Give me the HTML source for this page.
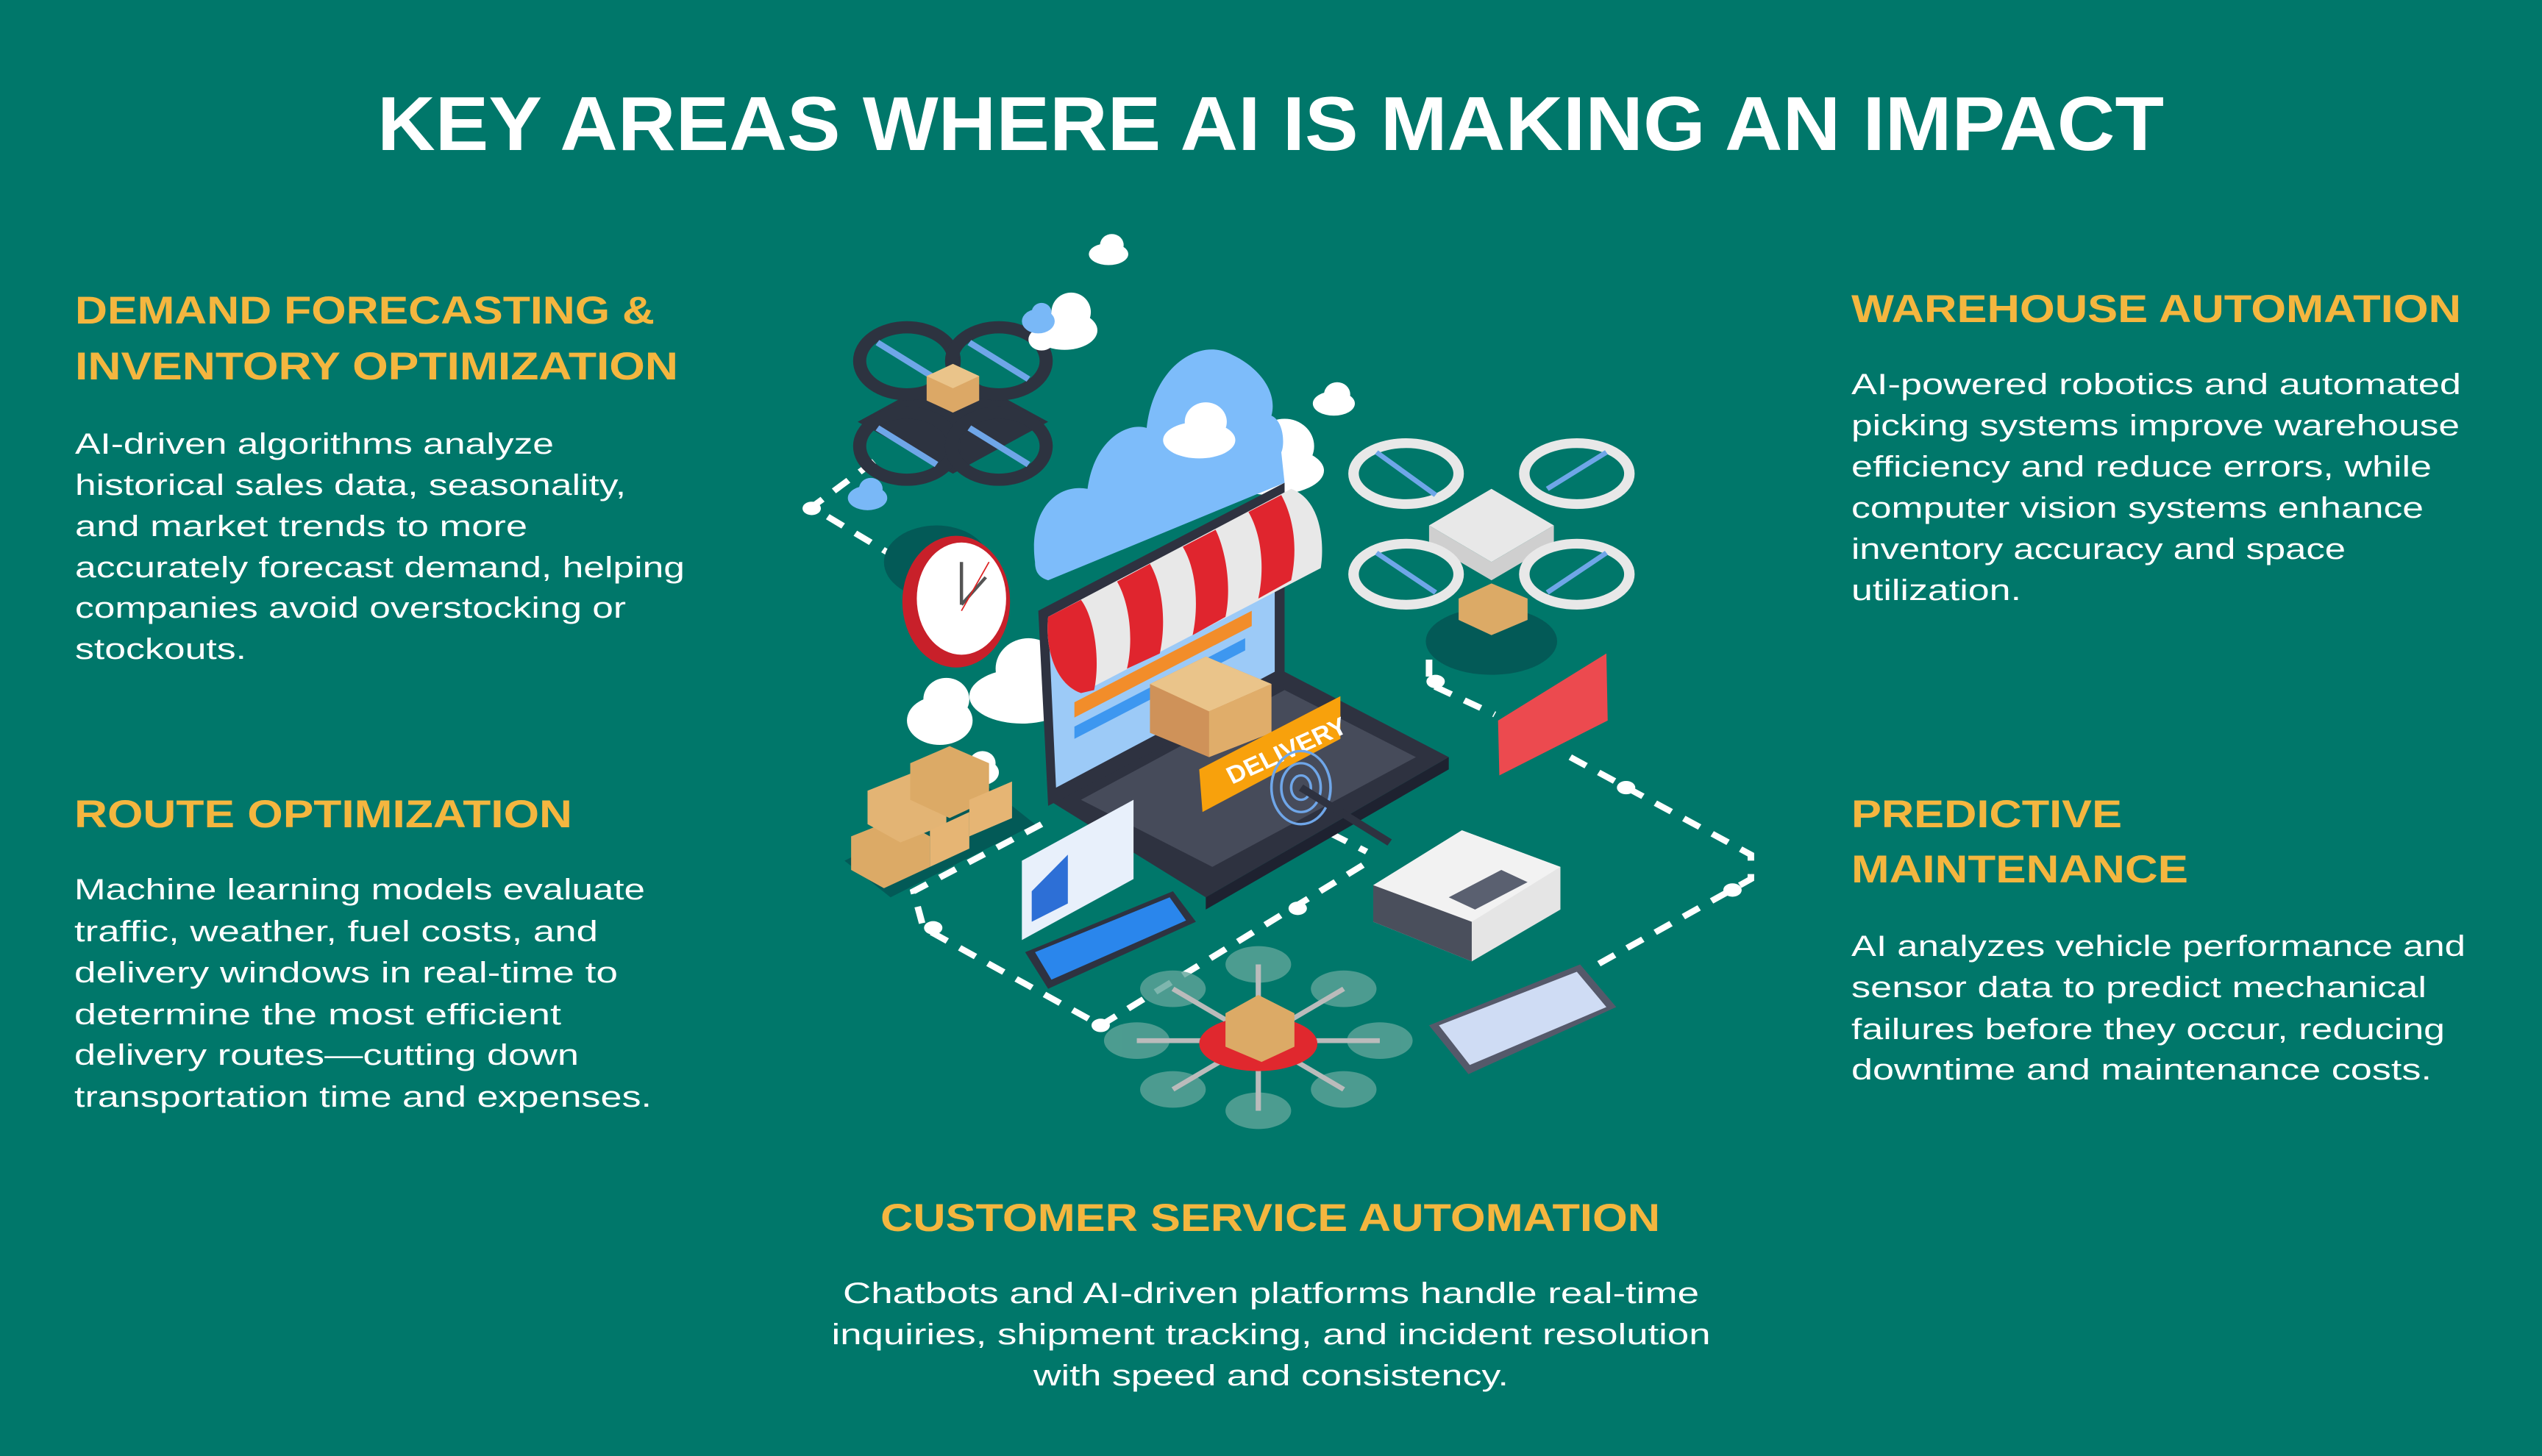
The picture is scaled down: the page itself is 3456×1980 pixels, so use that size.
<!DOCTYPE html>
<html><head><meta charset="utf-8"><style>
html,body{margin:0;padding:0;background:#00776a;}
svg{display:block}
text{font-family:"Liberation Sans",sans-serif;}
.t{fill:#fff;font-weight:bold;font-size:104px}
.h{fill:#f4b63f;font-weight:bold;font-size:53px}
.b{fill:#fff;font-size:40px}
</style></head><body>
<svg width="3456" height="1980" viewBox="0 0 3456 1980" xmlns="http://www.w3.org/2000/svg">
<rect width="3456" height="1980" fill="#00776a"/>
<text class="t" x="513" y="204" textLength="2429" lengthAdjust="spacingAndGlyphs">KEY AREAS WHERE AI IS MAKING AN IMPACT</text>

<text class="h" x="102" y="440" textLength="788" lengthAdjust="spacingAndGlyphs">DEMAND FORECASTING &amp;</text>
<text class="h" x="102" y="516" textLength="820" lengthAdjust="spacingAndGlyphs">INVENTORY OPTIMIZATION</text>
<text class="b" x="102" y="617" textLength="651" lengthAdjust="spacingAndGlyphs">AI-driven algorithms analyze</text>
<text class="b" x="102" y="673" textLength="749" lengthAdjust="spacingAndGlyphs">historical sales data, seasonality,</text>
<text class="b" x="102" y="729" textLength="615" lengthAdjust="spacingAndGlyphs">and market trends to more</text>
<text class="b" x="102" y="785" textLength="829" lengthAdjust="spacingAndGlyphs">accurately forecast demand, helping</text>
<text class="b" x="102" y="840" textLength="749" lengthAdjust="spacingAndGlyphs">companies avoid overstocking or</text>
<text class="b" x="102" y="896" textLength="233" lengthAdjust="spacingAndGlyphs">stockouts.</text>

<text class="h" x="101" y="1125" textLength="677" lengthAdjust="spacingAndGlyphs">ROUTE OPTIMIZATION</text>
<text class="b" x="101" y="1223" textLength="776" lengthAdjust="spacingAndGlyphs">Machine learning models evaluate</text>
<text class="b" x="101" y="1280" textLength="712" lengthAdjust="spacingAndGlyphs">traffic, weather, fuel costs, and</text>
<text class="b" x="101" y="1336" textLength="739" lengthAdjust="spacingAndGlyphs">delivery windows in real-time to</text>
<text class="b" x="101" y="1393" textLength="662" lengthAdjust="spacingAndGlyphs">determine the most efficient</text>
<text class="b" x="101" y="1448" textLength="686" lengthAdjust="spacingAndGlyphs">delivery routes—cutting down</text>
<text class="b" x="101" y="1505" textLength="785" lengthAdjust="spacingAndGlyphs">transportation time and expenses.</text>

<text class="h" x="2517" y="438" textLength="829" lengthAdjust="spacingAndGlyphs">WAREHOUSE AUTOMATION</text>
<text class="b" x="2517" y="536" textLength="829" lengthAdjust="spacingAndGlyphs">AI-powered robotics and automated</text>
<text class="b" x="2517" y="592" textLength="827" lengthAdjust="spacingAndGlyphs">picking systems improve warehouse</text>
<text class="b" x="2517" y="648" textLength="789" lengthAdjust="spacingAndGlyphs">efficiency and reduce errors, while</text>
<text class="b" x="2517" y="704" textLength="778" lengthAdjust="spacingAndGlyphs">computer vision systems enhance</text>
<text class="b" x="2517" y="760" textLength="672" lengthAdjust="spacingAndGlyphs">inventory accuracy and space</text>
<text class="b" x="2517" y="816" textLength="231" lengthAdjust="spacingAndGlyphs">utilization.</text>

<text class="h" x="2517" y="1125" textLength="368" lengthAdjust="spacingAndGlyphs">PREDICTIVE</text>
<text class="h" x="2517" y="1200" textLength="458" lengthAdjust="spacingAndGlyphs">MAINTENANCE</text>
<text class="b" x="2517" y="1300" textLength="835" lengthAdjust="spacingAndGlyphs">AI analyzes vehicle performance and</text>
<text class="b" x="2517" y="1356" textLength="782" lengthAdjust="spacingAndGlyphs">sensor data to predict mechanical</text>
<text class="b" x="2517" y="1413" textLength="807" lengthAdjust="spacingAndGlyphs">failures before they occur, reducing</text>
<text class="b" x="2517" y="1468" textLength="789" lengthAdjust="spacingAndGlyphs">downtime and maintenance costs.</text>

<text class="h" x="1197" y="1674" textLength="1060" lengthAdjust="spacingAndGlyphs">CUSTOMER SERVICE AUTOMATION</text>
<text class="b" x="1728" y="1772" text-anchor="middle" textLength="1164" lengthAdjust="spacingAndGlyphs">Chatbots and AI-driven platforms handle real-time</text>
<text class="b" x="1728" y="1828" text-anchor="middle" textLength="1195" lengthAdjust="spacingAndGlyphs">inquiries, shipment tracking, and incident resolution</text>
<text class="b" x="1728" y="1884" text-anchor="middle" textLength="646" lengthAdjust="spacingAndGlyphs">with speed and consistency.</text>

<g transform="translate(1050,300) scale(0.8929,0.8291)">
 <!-- dashed paths -->
 <g fill="none" stroke="#fff" stroke-width="10" stroke-dasharray="28 22">
  <path d="M155 395 L60 470 L200 560"/>
  <path d="M410 990 L215 1100 L230 1160 L500 1320"/>
  <path d="M500 1320 L910 1050"/>
  <path d="M1000 720 L1000 760 L1100 810"/>
  <path d="M1215 880 L1490 1040 L1490 1080 L1240 1230"/>
  <path d="M850 1005 L905 1035"/>
 </g>
 <g fill="#fff"><ellipse cx="60" cy="472" rx="14" ry="11"/><ellipse cx="245" cy="1160" rx="14" ry="11"/><ellipse cx="500" cy="1320" rx="14" ry="11"/><ellipse cx="800" cy="1128" rx="14" ry="11"/><ellipse cx="1010" cy="756" rx="14" ry="11"/><ellipse cx="1300" cy="930" rx="14" ry="11"/><ellipse cx="1462" cy="1098" rx="14" ry="11"/></g>
 <!-- shadows -->
 <g fill="#035a57"><ellipse cx="1095" cy="690" rx="100" ry="55"/><ellipse cx="250" cy="560" rx="80" ry="60"/><path d="M110 1050 L330 930 L400 990 L180 1110Z"/></g>
 <!-- dark drone -->
 <path d="M130 330 L275 245 L420 330 L275 415Z" fill="#2d3340"/>
 <g fill="none" stroke="#2d3340" stroke-width="20">
  <ellipse cx="205" cy="230" rx="72" ry="55"/><ellipse cx="345" cy="230" rx="72" ry="55"/><ellipse cx="205" cy="370" rx="72" ry="55"/><ellipse cx="345" cy="370" rx="72" ry="55"/>
 </g>
 <g stroke="#6fa6e8" stroke-width="10"><path d="M160 200 L250 260 M300 200 L390 260 M160 340 L250 400 M300 340 L390 400"/></g>
 <path d="M235 255 L275 235 L315 255 L315 295 L275 315 L235 295Z" fill="#dca866"/><path d="M235 255 L275 235 L315 255 L275 275Z" fill="#eac48a"/>
 <!-- clouds -->
 <g fill="#fff">
  <g transform="translate(445,180)"><ellipse cx="0" cy="0" rx="50" ry="32"/><ellipse cx="10" cy="-30" rx="30" ry="32"/><ellipse cx="-35" cy="15" rx="20" ry="18"/></g>
  <g transform="translate(512,55)"><ellipse cx="0" cy="0" rx="30" ry="18"/><ellipse cx="5" cy="-15" rx="18" ry="18"/></g>
  <g transform="translate(855,300)"><ellipse cx="0" cy="0" rx="32" ry="20"/><ellipse cx="5" cy="-15" rx="20" ry="20"/></g>
  <g transform="translate(760,410)"><ellipse cx="0" cy="0" rx="80" ry="40"/><ellipse cx="20" cy="-40" rx="45" ry="45"/><ellipse cx="-40" cy="0" rx="35" ry="30"/></g>
  <g transform="translate(380,780)"><ellipse cx="0" cy="0" rx="80" ry="45"/><ellipse cx="10" cy="-45" rx="50" ry="50"/><ellipse cx="60" cy="-15" rx="40" ry="35"/></g>
  <g transform="translate(255,820)"><ellipse cx="0" cy="0" rx="50" ry="40"/><ellipse cx="10" cy="-35" rx="35" ry="35"/></g>
  <g transform="translate(315,905)"><ellipse cx="0" cy="0" rx="30" ry="22"/><ellipse cx="5" cy="-15" rx="20" ry="20"/></g>
 </g>
 <g fill="#79b8f7"><g transform="translate(405,165)"><ellipse cx="0" cy="0" rx="25" ry="20"/><ellipse cx="5" cy="-15" rx="15" ry="15"/></g><g transform="translate(145,455)"><ellipse cx="0" cy="0" rx="30" ry="20"/><ellipse cx="5" cy="-15" rx="18" ry="18"/></g></g>
 <!-- big blue cloud -->
 <path d="M400 560 C390 480 430 430 480 440 C490 360 540 330 570 340 C580 240 650 190 700 220 C740 240 770 280 760 320 C780 330 780 370 775 380 L780 430 L420 590 C405 585 400 575 400 560Z" fill="#7dbcfa"/>
 <g fill="#fff" transform="translate(650,360)"><ellipse cx="0" cy="0" rx="55" ry="30"/><ellipse cx="10" cy="-30" rx="32" ry="32"/></g>
 <!-- clock -->
 <ellipse cx="280" cy="625" rx="82" ry="108" fill="#c8202a"/>
 <ellipse cx="288" cy="620" rx="68" ry="92" fill="#fff"/>
 <path d="M288 630 L288 560 M288 630 L325 585" stroke="#555" stroke-width="5"/>
 <path d="M288 640 L330 560" stroke="#d22" stroke-width="2"/>
 <!-- laptop base -->
 <path d="M420 950 L780 740 L1030 880 L660 1110Z" fill="#2e3240"/>
 <path d="M470 950 L780 770 L980 880 L670 1060Z" fill="#464b5a"/>
 <path d="M660 1110 L1030 880 L1030 900 L660 1130Z" fill="#1e2230"/>
 <!-- screen -->
 <path d="M405 640 L780 430 L780 760 L420 960Z" fill="#2e3240"/>
 <path d="M420 650 L765 455 L765 740 L432 930Z" fill="#9ccaf7"/>
 <path d="M460 790 L730 640 L730 665 L460 815Z" fill="#f28d2a"/>
 <path d="M460 830 L720 685 L720 705 L460 850Z" fill="#3d97f0"/>
 <!-- awning -->
 <path d="M420 650 L790 440 C840 460 840 540 835 570 L470 775 C430 760 415 700 420 650Z" fill="#e8e8e8"/>
 <g fill="#e0252e">
  <path d="M420 650 L470 622 C490 650 500 720 490 770 L470 775 C430 760 415 700 420 650Z"/>
  <path d="M525 592 L575 563 C595 600 600 660 590 710 L540 735 C550 690 545 630 525 592Z"/>
  <path d="M625 535 L675 507 C690 540 700 600 690 650 L640 680 C650 630 645 570 625 535Z"/>
  <path d="M725 478 L775 450 C795 490 800 540 790 590 L740 620 C750 570 745 515 725 478Z"/>
 </g>
 <!-- box on laptop -->
 <path d="M575 760 L660 715 L760 760 L760 840 L665 880 L575 840Z" fill="#cf9259"/>
 <path d="M575 760 L660 715 L760 760 L665 805Z" fill="#eac48a"/>
 <path d="M665 805 L760 760 L760 840 L665 880Z" fill="#e0ad6a"/>
 <!-- delivery label -->
 <path d="M650 900 L865 780 L865 850 L655 970Z" fill="#f8a10c"/>
 <text x="0" y="0" transform="translate(700,925) rotate(-26)" fill="#fff" font-weight="bold" font-size="40" font-family="Liberation Sans, sans-serif">DELIVERY</text>
 <g fill="none" stroke="#6fa6e8" stroke-width="4"><ellipse cx="805" cy="930" rx="45" ry="60"/><ellipse cx="805" cy="930" rx="30" ry="40"/><ellipse cx="805" cy="930" rx="15" ry="20"/></g>
 <path d="M805 930 L940 1020" stroke="#2e3240" stroke-width="12"/>
 <!-- boxes stack -->
 <g>
  <path d="M120 1010 L190 980 L240 1010 L240 1060 L170 1095 L120 1065Z" fill="#dcaa66"/>
  <path d="M145 935 L215 905 L265 935 L265 990 L195 1020 L145 990Z" fill="#e3b474"/>
  <path d="M210 890 L270 862 L330 890 L330 950 L270 980 L210 950Z" fill="#dcaa66"/>
  <path d="M240 1000 L300 970 L300 1030 L240 1060Z" fill="#e6b574"/>
  <path d="M300 950 L365 920 L365 980 L300 1010Z" fill="#e6b574"/>
 </g>
 <!-- white drone -->
 <path d="M1000 500 L1095 440 L1190 500 L1095 560Z" fill="#e8e8e8"/>
 <path d="M1000 500 L1095 560 L1190 500 L1190 530 L1095 590 L1000 530Z" fill="#cfcfcf"/>
 <g fill="none" stroke="#e8e8e8" stroke-width="16"><ellipse cx="965" cy="415" rx="80" ry="50"/><ellipse cx="1225" cy="415" rx="80" ry="50"/><ellipse cx="965" cy="580" rx="80" ry="50"/><ellipse cx="1225" cy="580" rx="80" ry="50"/></g>
 <g stroke="#6fa6e8" stroke-width="8"><path d="M920 380 L1010 450 M1180 440 L1270 380 M920 545 L1010 610 M1180 610 L1270 545"/></g>
 <path d="M1045 620 L1095 595 L1150 620 L1150 655 L1095 680 L1045 655Z" fill="#dcaa66"/>
 <!-- red card -->
 <path d="M1105 820 L1270 710 L1272 820 L1107 910Z" fill="#ec4a4f"/>
 <!-- controller -->
 <path d="M915 1090 L1050 1000 L1200 1060 L1200 1130 L1065 1215 L915 1150Z" fill="#e5e5e5"/>
 <path d="M915 1090 L1050 1000 L1200 1060 L1065 1150Z" fill="#f2f2f2"/>
 <path d="M915 1090 L1065 1150 L1065 1215 L915 1150Z" fill="#4a4f5c"/>
 <path d="M1030 1110 L1110 1065 L1150 1085 L1070 1130Z" fill="#5a6070"/>
 <!-- chart doc -->
 <path d="M380 1050 L550 950 L550 1080 L380 1180Z" fill="#e8f0fb"/>
 <path d="M395 1150 L450 1120 L450 1040 L395 1100Z" fill="#2d6fd6"/>
 <!-- phone -->
 <path d="M385 1200 L610 1100 L645 1150 L420 1260Z" fill="#2e3240"/>
 <path d="M400 1200 L605 1110 L630 1148 L425 1245Z" fill="#2a86ec"/>
 <!-- octocopter -->
 <g fill="#5fa59a" opacity="0.8">
  <ellipse cx="740" cy="1220" rx="50" ry="30"/><ellipse cx="870" cy="1260" rx="50" ry="30"/><ellipse cx="925" cy="1345" rx="50" ry="30"/><ellipse cx="870" cy="1425" rx="50" ry="30"/><ellipse cx="740" cy="1460" rx="50" ry="30"/><ellipse cx="610" cy="1425" rx="50" ry="30"/><ellipse cx="555" cy="1345" rx="50" ry="30"/><ellipse cx="610" cy="1260" rx="50" ry="30"/>
 </g>
 <g stroke="#bbb" stroke-width="8"><path d="M740 1220 L740 1460 M555 1345 L925 1345 M610 1260 L870 1425 M870 1260 L610 1425"/></g>
 <ellipse cx="740" cy="1350" rx="90" ry="45" fill="#e0282e"/>
 <path d="M690 1300 L740 1270 L795 1300 L795 1355 L745 1380 L690 1355Z" fill="#dcaa66"/>
 <!-- tablet -->
 <path d="M1000 1320 L1230 1220 L1285 1290 L1060 1400Z" fill="#55596a"/>
 <path d="M1015 1320 L1225 1232 L1270 1290 L1062 1385Z" fill="#cfdcf4"/>
</g>
</svg>
</body></html>
